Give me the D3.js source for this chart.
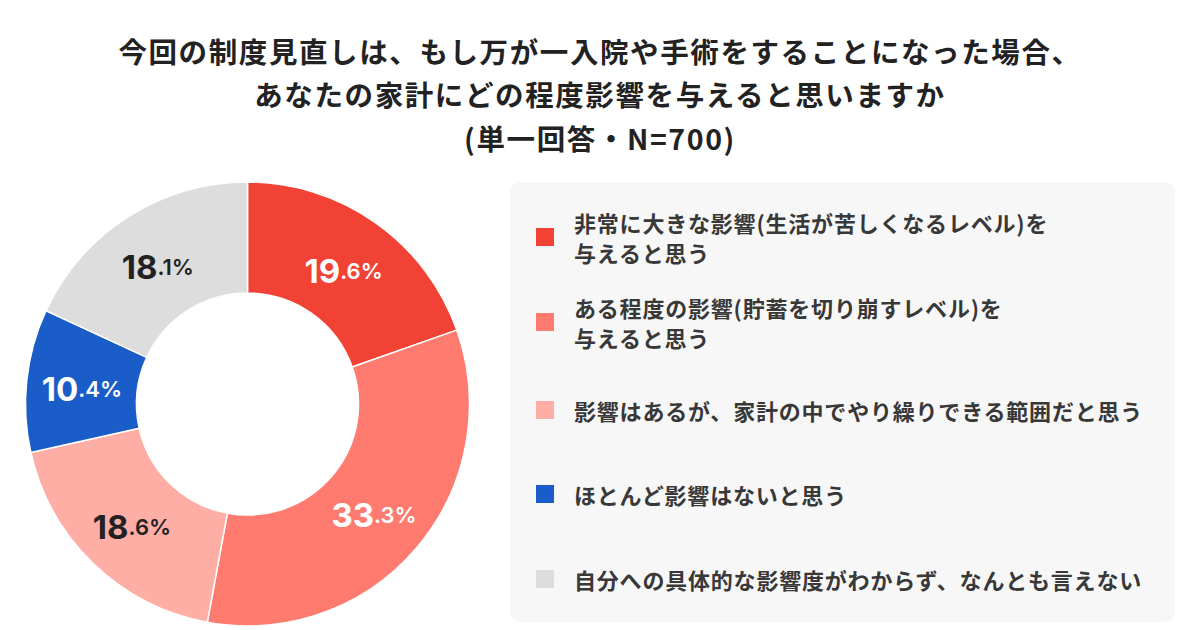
<!DOCTYPE html>
<html>
<head>
<meta charset="utf-8">
<script src="https://cdn.jsdelivr.net/npm/d3@7"></script>
<style>
  html, body { margin: 0; padding: 0; background: #fff; }
  svg text { font-family: "Noto Sans CJK JP", "Noto Sans", sans-serif; }
</style>
</head>
<body>
<div id="vis"></div>
<script>
const width = 1200;
const height = 630;

// data
const categories = [
  "非常に大きな影響(生活が苦しくなるレベル)を\n与えると思う",
  "ある程度の影響(貯蓄を切り崩すレベル)を\n与えると思う",
  "影響はあるが、家計の中でやり繰りできる範囲だと思う",
  "ほとんど影響はないと思う",
  "自分への具体的な影響度がわからず、なんとも言えない"
];
const values = [19.6, 33.3, 18.6, 10.4, 18.1];
const colors = ["#F24236", "#FF7B70", "#FFAEA6", "#1A5DC8", "#DDDDDD"];
const labelColors = ["#ffffff", "#ffffff", "#222222", "#ffffff", "#222222"];
const titleLines = [
  "今回の制度見直しは、もし万が一入院や手術をすることになった場合、",
  "あなたの家計にどの程度影響を与えると思いますか",
  "(単一回答・N=700)"
];

const svg = d3.select("#vis")
  .append("svg")
  .attr("width", width)
  .attr("height", height);

// title
svg.append("g")
  .selectAll("text")
  .data(titleLines)
  .join("text")
  .attr("x", width / 2)
  .attr("y", (d, i) => 50 + i * 43.5)
  .attr("text-anchor", "middle")
  .attr("dominant-baseline", "central")
  .attr("font-size", 28.5)
  .attr("font-weight", 700)
  .attr("letter-spacing", 1.6)
  .attr("fill", "#222")
  .text(d => d);

// donut
const cx = 247.5, cy = 404;
const outerR = 222, innerR = 111;

const pie = d3.pie().sort(null).value(d => d);
const arc = d3.arc().innerRadius(innerR).outerRadius(outerR);
const labelArc = d3.arc().innerRadius((innerR + outerR) / 2).outerRadius((innerR + outerR) / 2);

const donut = svg.append("g")
  .attr("transform", `translate(${cx},${cy})`);

const arcs = pie(values);

donut.selectAll("path")
  .data(arcs)
  .join("path")
  .attr("d", arc)
  .attr("fill", (d, i) => colors[i])
  .attr("stroke", "#fff")
  .attr("stroke-width", 1.5);

const labels = donut.selectAll("text.pct")
  .data(arcs)
  .join("text")
  .attr("class", "pct")
  .attr("transform", d => {
    const [x, y] = labelArc.centroid(d);
    return `translate(${x},${y + 3})`;
  })
  .attr("text-anchor", "middle")
  .attr("dominant-baseline", "central")
  .attr("fill", (d, i) => labelColors[i])
  .style("font-family", "Inter, 'Noto Sans', sans-serif")
  .attr("font-weight", 700);

labels.append("tspan")
  .attr("font-size", 33)
  .text(d => d.data.toFixed(1).split(".")[0]);
labels.append("tspan")
  .attr("font-size", 22)
  .attr("font-weight", 600)
  .text(d => "." + d.data.toFixed(1).split(".")[1] + "%");

// legend panel
const legend = svg.append("g");

legend.append("rect")
  .attr("x", 510)
  .attr("y", 182)
  .attr("width", 665)
  .attr("height", 440)
  .attr("rx", 10)
  .attr("fill", "#F7F7F7");

const rowY = [237, 322, 410, 494, 579];

const item = legend.selectAll("g.item")
  .data(categories)
  .join("g")
  .attr("class", "item")
  .attr("transform", (d, i) => `translate(536,${rowY[i]})`);

item.append("rect")
  .attr("x", 0)
  .attr("y", -9)
  .attr("width", 18)
  .attr("height", 18)
  .attr("fill", (d, i) => colors[i]);

item.each(function(d) {
  const lines = d.split("\n");
  const t = d3.select(this).append("text")
    .attr("x", 38)
    .attr("dominant-baseline", "central")
    .attr("font-size", 22)
    .attr("font-weight", 700)
    .attr("letter-spacing", 0.8)
    .attr("fill", "#383838");
  lines.forEach((line, j) => {
    t.append("tspan")
      .attr("x", 38)
      .attr("y", (j - (lines.length - 1) / 2) * 30)
      .text(line);
  });
});
</script>
</body>
</html>
